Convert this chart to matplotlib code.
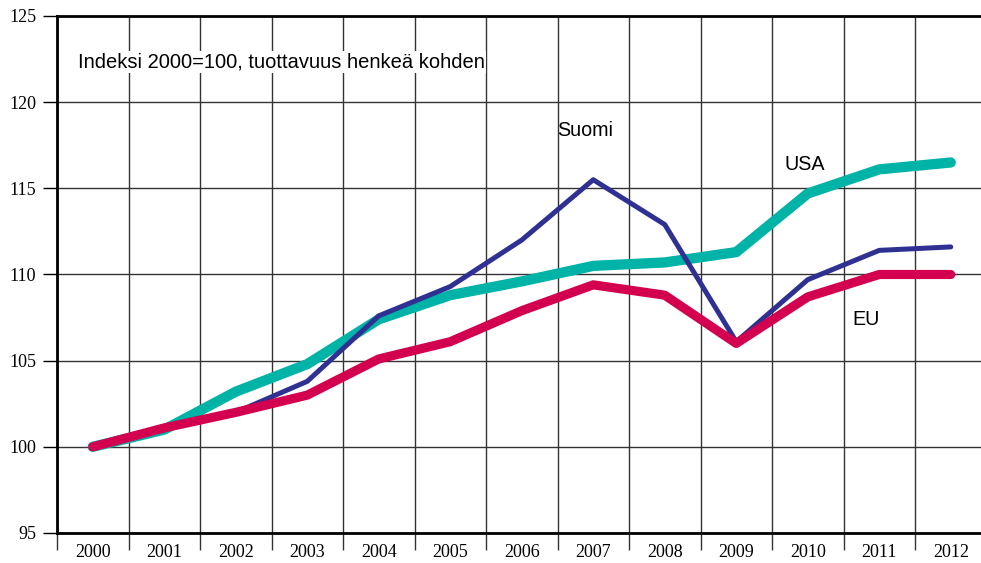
import numpy as np
import matplotlib.pyplot as plt

years = [str(y) for y in range(2000, 2013)]
suomi = [100, 101.0, 102.0, 103.8, 107.6, 109.3, 112.0, 115.5, 112.9, 106.1, 109.7, 111.4, 111.6]
usa = [100, 101.0, 103.2, 104.8, 107.4, 108.8, 109.6, 110.5, 110.7, 111.3, 114.7, 116.1, 116.5]
eu = [100, 101.1, 102.0, 103.0, 105.1, 106.1, 107.9, 109.4, 108.8, 106.0, 108.7, 110.0, 110.0]

W, H = 981, 563
fig = plt.figure(figsize=(W / 100, H / 100), dpi=100)
# plot area runs a little past the right edge in the original
ax = fig.add_axes([57 / W, 1 - 533 / H, 929.5 / W, 517 / H])

x = np.arange(len(years))
ax.plot(x, usa, color='#00B3A7', lw=7.4, solid_capstyle='round', solid_joinstyle='round', zorder=3)
ax.plot(x, suomi, color='#2E3191', lw=3.6, solid_capstyle='round', zorder=4)
ax.plot(x, eu, color='#D3004F', lw=6.6, solid_capstyle='round', solid_joinstyle='round', zorder=5)

ax.set_xlim(-0.5, len(years) - 0.5)
ax.set_ylim(95, 125)
ax.set_yticks(range(95, 126, 5))
ax.set_xticks(x)
ax.set_xticklabels(years)
ax.set_xticks(np.arange(-0.5, len(years), 1), minor=True)

serif = 'Liberation Serif'
ax.tick_params(axis='x', which='major', length=0, pad=8, labelsize=13)
ax.tick_params(axis='x', which='minor', length=12, width=1, color='#333333')
ax.tick_params(axis='y', length=10, width=1, pad=5, labelsize=13)
for lab in ax.get_xticklabels() + ax.get_yticklabels():
    lab.set_fontfamily(serif)

ax.grid(True, which='minor', axis='x', color='#333333', lw=1)
ax.grid(True, which='major', axis='y', color='#333333', lw=1)
ax.set_axisbelow(True)
for s in ['left', 'bottom', 'top']:
    ax.spines[s].set_linewidth(2)
ax.spines['right'].set_visible(False)

sans = 'Liberation Sans'
ax.text(-0.21, 122.34, 'Indeksi 2000=100, tuottavuus henkeä kohden', fontsize=14.5,
        family=sans, va='center', ha='left',
        bbox=dict(facecolor='white', edgecolor='none', pad=1))
ax.text(6.885, 118.33, 'Suomi', fontsize=14.2, family=sans, ha='center', va='center')
ax.text(9.96, 116.36, 'USA', fontsize=14.2, family=sans, ha='center', va='center')
ax.text(10.81, 107.36, 'EU', fontsize=14.2, family=sans, ha='center', va='center')

fig.savefig('out.png', dpi=100)
